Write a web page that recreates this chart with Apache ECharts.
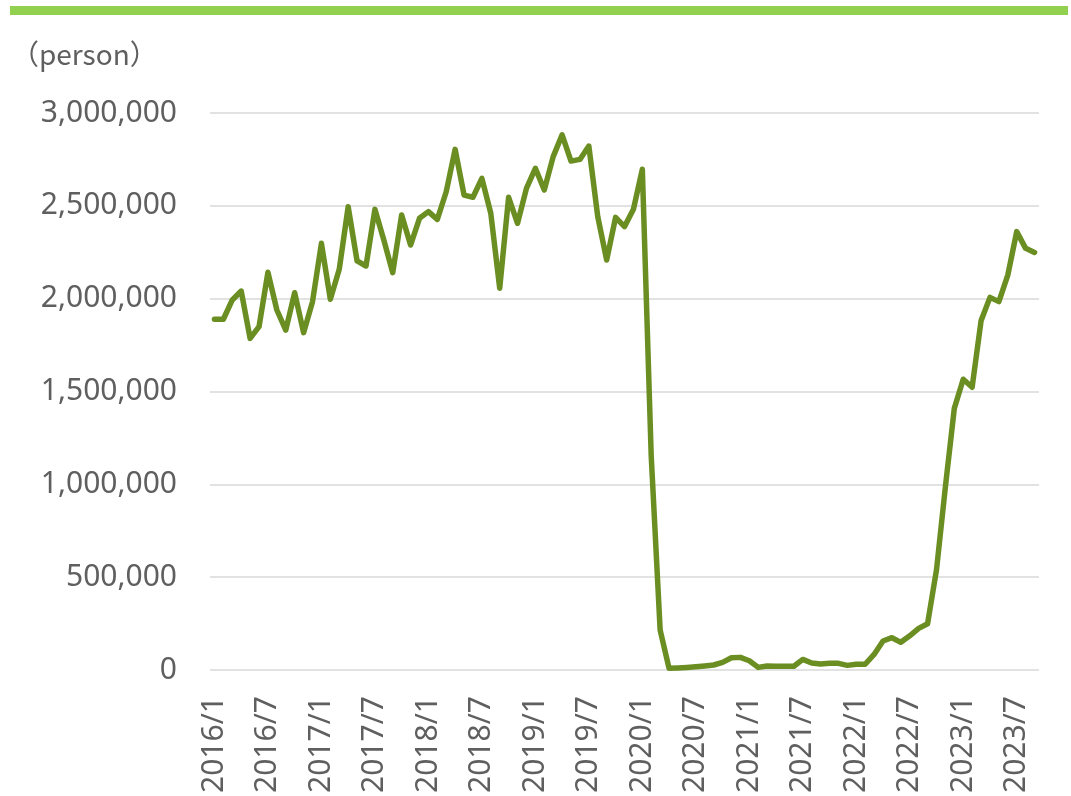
<!DOCTYPE html>
<html>
<head>
<meta charset="utf-8">
<script src="https://cdn.jsdelivr.net/npm/echarts@6/dist/echarts.min.js"></script>
<style>
  html, body { margin: 0; padding: 0; background: #ffffff; }
  #chart { width: 1071px; height: 796px; }
</style>
</head>
<body>
<div id="chart"></div>
<script>
// Monthly visitor counts, January 2016 to September 2023
const years = ['2016', '2017', '2018', '2019', '2020', '2021', '2022', '2023'];
const monthsPerYear = [12, 12, 12, 12, 12, 12, 12, 9];

const visitors2016 = [1889000, 1889000, 1993000, 2041000, 1786000, 1849000, 2142000, 1939000, 1831000, 2032000, 1817000, 1984000];
const visitors2017 = [2298000, 1997000, 2158000, 2495000, 2203000, 2176000, 2481000, 2316000, 2140000, 2451000, 2289000, 2433000];
const visitors2018 = [2469000, 2427000, 2576000, 2804000, 2558000, 2546000, 2648000, 2460000, 2056000, 2546000, 2406000, 2594000];
const visitors2019 = [2702000, 2585000, 2765000, 2882000, 2741000, 2750000, 2822000, 2442000, 2208000, 2438000, 2388000, 2481000];
const visitors2020 = [2697000, 1150000, 215000, 9000, 11000, 14000, 18000, 22000, 27000, 41000, 66000, 68000];
const visitors2021 = [50000, 14000, 22000, 20000, 20000, 20000, 57000, 38000, 32000, 36000, 36000, 25000];
const visitors2022 = [31000, 31000, 84000, 156000, 174000, 149000, 184000, 224000, 249000, 539000, 987000, 1409000];
const visitors2023 = [1566000, 1523000, 1881000, 2007000, 1984000, 2127000, 2361000, 2271000, 2249000];

const yTicks = [0, 500000, 1000000, 1500000, 2000000, 2500000, 3000000];
const unitLabel = '（person）';

// category labels "YYYY/M"
const categories = [];
years.forEach((y, k) => {
  for (let m = 1; m <= monthsPerYear[k]; m++) categories.push(y + '/' + m);
});
const values = [].concat(visitors2016, visitors2017, visitors2018, visitors2019,
                         visitors2020, visitors2021, visitors2022, visitors2023);

const textColor = '#5f5f5f';
const fontFamily = '"Noto Sans", "Noto Sans CJK JP", sans-serif';

const chart = echarts.init(document.getElementById('chart'), null, { renderer: 'canvas' });
chart.setOption({
  backgroundColor: '#ffffff',
  animation: false,
  grid: { left: 210, right: 32, top: 113, bottom: 126, containLabel: false },
  graphic: [
    {
      type: 'rect',
      shape: { x: 10, y: 6, width: 1058, height: 9 },
      style: { fill: '#92D050' }
    },
    {
      type: 'text',
      left: 11, top: 40,
      style: {
        text: unitLabel,
        fill: textColor,
        font: '28px "Noto Sans CJK JP", sans-serif'
      }
    }
  ],
  xAxis: {
    type: 'category',
    data: categories,
    boundaryGap: true,
    axisLine: { show: false },
    axisTick: { show: false },
    axisLabel: {
      interval: 5,
      rotate: 90,
      margin: 26,
      color: textColor,
      fontSize: 30,
      fontFamily: fontFamily
    }
  },
  yAxis: {
    type: 'value',
    min: yTicks[0],
    max: yTicks[yTicks.length - 1],
    interval: yTicks[1] - yTicks[0],
    axisLine: { show: false },
    axisTick: { show: false },
    splitLine: { lineStyle: { color: '#D9D9D9', width: 1.5 } },
    axisLabel: {
      margin: 33,
      color: textColor,
      fontSize: 30,
      fontFamily: fontFamily,
      formatter: v => v.toLocaleString('en-US')
    }
  },
  series: [{
    type: 'line',
    data: values,
    showSymbol: false,
    symbol: 'none',
    smooth: false,
    lineStyle: { color: '#6B8E23', width: 5.5, join: 'round', cap: 'round' }
  }]
});
</script>
</body>
</html>
